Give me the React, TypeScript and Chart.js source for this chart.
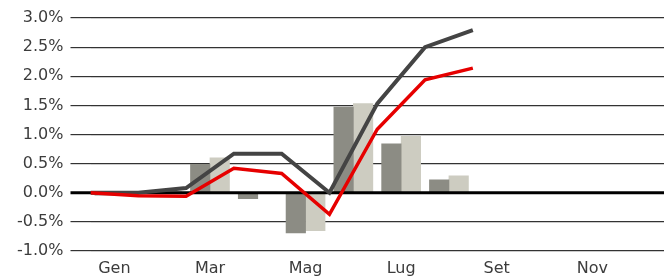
import React, { useEffect, useRef } from "react";
import { Chart, registerables } from "chart.js";

Chart.register(...registerables);

const months = ["Gen", "Feb", "Mar", "Apr", "Mag", "Giu", "Lug", "Ago", "Set", "Ott", "Nov", "Dic"];
const barDark = [-0.04, 0.01, 0.49, -0.1, -0.69, 1.47, 0.84, 0.22, null, null, null, null];
const barLight = [-0.02, 0.02, 0.6, 0.01, -0.65, 1.53, 0.97, 0.29, null, null, null, null];
// cumulative lines, at month boundaries (start of Gen .. end of Ago)
const lineDark = [0.0, 0.0, 0.08, 0.67, 0.67, 0.0, 1.53, 2.5, 2.79];
const lineRed = [0.0, -0.05, -0.06, 0.42, 0.33, -0.37, 1.09, 1.94, 2.14];
const yTicks = [-1.0, -0.5, 0.0, 0.5, 1.0, 1.5, 2.0, 2.5, 3.0];

const FONT = "'DejaVu Sans', sans-serif";

const zeroLinePlugin = {
  id: "zeroLine",
  beforeDatasetsDraw(chart: any) {
    chart.$zeroDrawn = false;
  },
  beforeDatasetDraw(chart: any, args: any) {
    if (chart.$zeroDrawn) return;
    if (args.meta.type !== "line") return;
    chart.$zeroDrawn = true;
    const y = chart.scales.y.getPixelForValue(0);
    const ctx = chart.ctx;
    ctx.save();
    ctx.strokeStyle = "#000000";
    ctx.lineWidth = 3;
    ctx.beginPath();
    ctx.moveTo(chart.chartArea.left - 20, y);
    ctx.lineTo(chart.chartArea.right, y);
    ctx.stroke();
    ctx.restore();
  },
};

export default function App() {
  const ref = useRef<HTMLCanvasElement | null>(null);
  useEffect(() => {
    document.body.style.margin = "0";
    const ctx = ref.current!;
    const chart = new Chart(ctx, {
      type: "bar",
      data: {
        labels: months,
        datasets: [
          {
            type: "line",
            label: "Linea grigia",
            data: lineDark.map((v, i) => ({ x: i, y: v })),
            xAxisID: "x2",
            borderColor: "#444444",
            borderWidth: 4,
            pointRadius: 0,
            tension: 0,
            order: 1,
          } as any,
          {
            type: "line",
            label: "Linea rossa",
            data: lineRed.map((v, i) => ({ x: i, y: v })),
            xAxisID: "x2",
            borderColor: "#e60000",
            borderWidth: 3.5,
            pointRadius: 0,
            tension: 0,
            order: 0,
          } as any,
          {
            type: "bar",
            label: "Barre scure",
            data: barDark,
            backgroundColor: "#8c8c84",
            barThickness: 19.5,
            order: 2,
          },
          {
            type: "bar",
            label: "Barre chiare",
            data: barLight,
            backgroundColor: "#cdccc1",
            barThickness: 19.5,
            order: 3,
          },
        ],
      },
      options: {
        animation: false,
        responsive: true,
        maintainAspectRatio: false,
        layout: { padding: { top: 18, left: 0, right: -2.5, bottom: 0 } },
        plugins: { legend: { display: false }, tooltip: { enabled: false } },
        scales: {
          x: {
            type: "category",
            offset: true,
            afterFit: (scale: any) => {
              scale.height = 25;
            },
            grid: { display: false, drawTicks: false },
            border: { display: false },
            ticks: {
              autoSkip: false,
              maxRotation: 0,
              padding: 8,
              color: "#3c3c3c",
              font: { family: FONT, size: 16 },
              callback: (_v: any, i: number) => (i % 2 === 0 ? months[i] : ""),
            },
          },
          x2: {
            type: "linear",
            min: 0,
            max: 12,
            offset: false,
            grid: { offset: false },
            display: false,
          },
          y: {
            type: "linear",
            min: yTicks[0],
            max: yTicks[yTicks.length - 1],
            afterFit: (scale: any) => {
              scale.width = 90.5;
            },
            afterBuildTicks: (scale: any) => {
              scale.ticks = yTicks.map((v) => ({ value: v }));
            },
            grid: {
              color: (c: any) => (c.tick && c.tick.value === 0 ? "rgba(0,0,0,0)" : "#333333"),
              lineWidth: 1.2,
              drawTicks: true,
              tickLength: 20,
            },
            border: { display: false },
            ticks: {
              padding: 7,
              color: "#3c3c3c",
              font: { family: FONT, size: 16 },
              callback: (v: any) => Number(v).toFixed(1) + "%",
            },
          },
        },
      },
      plugins: [zeroLinePlugin],
    });
    return () => chart.destroy();
  }, []);
  return (
    <div style={{ position: "fixed", left: 0, top: 0, width: 664, height: 276 }}>
      <canvas ref={ref} />
    </div>
  );
}
